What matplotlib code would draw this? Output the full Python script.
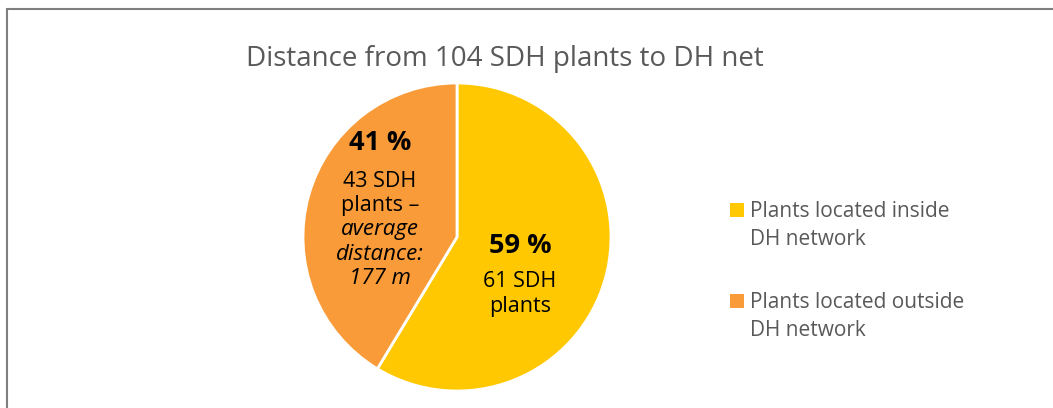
import matplotlib
matplotlib.use("Agg")
import matplotlib.pyplot as plt
from matplotlib.patches import Rectangle

categories = ["Plants located inside\nDH network", "Plants located outside\nDH network"]
counts = [61, 43]
percent_labels = ["59 %", "41 %"]
colors = ["#FFC800", "#F99B38"]
title = "Distance from 104 SDH plants to DH net"

W, H = 1053, 408
plt.rcParams['font.family'] = ['Open Sans', 'DejaVu Sans']
fig = plt.figure(figsize=(W / 100, H / 100), dpi=100)

def fx(px):
    return px / W

def fy(py):
    return 1 - py / H

# border (extends past right/bottom edges)
fig.patches.append(Rectangle((fx(7), fy(420)), fx(1100), fy(9) - fy(420),
                             transform=fig.transFigure, fill=False,
                             edgecolor="#7F7F7F", linewidth=1.5))

# pie axes: centre (457, 237), radius 154 px
cx, cy, r = 457, 237, 154
ax = fig.add_axes([fx(cx - r), fy(cy + r), 2 * r / W, 2 * r / H])
wedges, _ = ax.pie(counts, colors=colors, startangle=90, counterclock=False,
                   wedgeprops=dict(edgecolor="white", linewidth=2))
ax.set_xlim(-1, 1)
ax.set_ylim(-1, 1)
ax.set_aspect('auto')
ax.axis('off')

def tx(px, py, s, **kw):
    fig.text(fx(px), fy(py), s, ha='center', va='baseline', color='black', **kw)

# outside label
tx(380, 150, percent_labels[1], fontsize=19.5, fontweight='bold')
tx(380, 187, f"{counts[1]} SDH", fontsize=15.5)
tx(380, 211, "plants \u2013", fontsize=15.5)
tx(380, 235, "average", fontsize=16, style='italic')
tx(380, 260, "distance:", fontsize=16, style='italic')
tx(380, 284, "177 m", fontsize=16, style='italic')

# inside label
tx(520, 253, percent_labels[0], fontsize=19.5, fontweight='bold')
tx(520, 287, f"{counts[0]} SDH", fontsize=15.5)
tx(520, 312, "plants", fontsize=15.5)

# title
fig.text(fx(505), fy(66), title, ha='center', va='baseline',
         fontsize=20, color='#595959')

# legend
legend_y = [217, 308]
for cat, col, ly in zip(categories, colors, legend_y):
    fig.patches.append(Rectangle((fx(730), fy(ly)), fx(14), fy(ly - 14) - fy(ly),
                                 transform=fig.transFigure, facecolor=col,
                                 edgecolor='none'))
    for i, line in enumerate(cat.split("\n")):
        fig.text(fx(750), fy(ly + 28 * i), line, ha='left', va='baseline',
                 fontsize=15, color='#595959')

fig.savefig("out.png", dpi=100)
